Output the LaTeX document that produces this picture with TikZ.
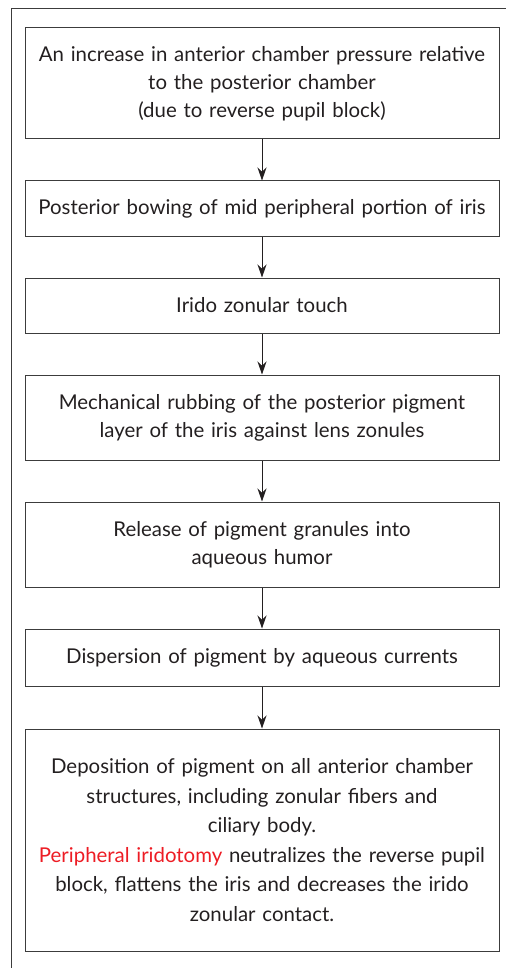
\documentclass[tikz,border=0pt]{standalone}
\usepackage{fontspec}
\setmainfont{Lato}
\usetikzlibrary{arrows.meta}
\definecolor{inkgrey}{RGB}{35,31,32}
\definecolor{framegrey}{RGB}{60,60,60}
\definecolor{iridred}{RGB}{237,28,36}
\tikzset{%
    stepbox/.style={%
        draw=framegrey, line width=1pt, text=inkgrey, align=center,
        text width=474pt, inner xsep=0pt, inner ysep=0pt, minimum height=#1,
        font=\fontsize{20.4}{28}\selectfont
    },
    flow/.style={draw=inkgrey, line width=0.9pt, -{Stealth[length=13pt,width=9pt]}}
}

\begin{document}
\begin{tikzpicture}[x=1pt,y=-1pt]
    \useasboundingbox (0,0) rectangle (506,968);
    % outer frame
    \draw[framegrey, line width=0.8pt] (11,968) -- (11,8) -- (506,8);
    \node[stepbox=111pt] (pressure) at (262,83.5) {An increase in anterior chamber pressure relative\\ to the posterior chamber\\ (due to reverse pupil block)};
    \node[stepbox=56pt] (bowing) at (262,209) {Posterior bowing of mid peripheral portion of iris};
    \node[stepbox=55pt] (touch) at (262,305.5) {Irido zonular touch};
    \node[stepbox=85pt] (rubbing) at (262,417.5) {Mechanical rubbing of the posterior pigment\\ layer of the iris against lens zonules};
    \node[stepbox=85pt] (release) at (262,544.5) {Release of pigment granules into\\ aqueous humor};
    \node[stepbox=57pt] (dispersion) at (262,657.5) {Dispersion of pigment by aqueous currents};
    \node[stepbox=222pt, font=\fontsize{20.4}{29.5}\selectfont] (deposition) at (262,840) {Deposition of pigment on all anterior chamber\\ structures, including zonular fibers and\\ ciliary body.\\ \textcolor{iridred}{Peripheral iridotomy} neutralizes the reverse pupil\\ block, flattens the iris and decreases the irido\\ zonular contact.};
    % arrows
    \draw[flow] (pressure) -- (bowing);
    \draw[flow] (bowing) -- (touch);
    \draw[flow] (touch) -- (rubbing);
    \draw[flow] (rubbing) -- (release);
    \draw[flow] (release) -- (dispersion);
    \draw[flow] (dispersion) -- (deposition);
\end{tikzpicture}
\end{document}
